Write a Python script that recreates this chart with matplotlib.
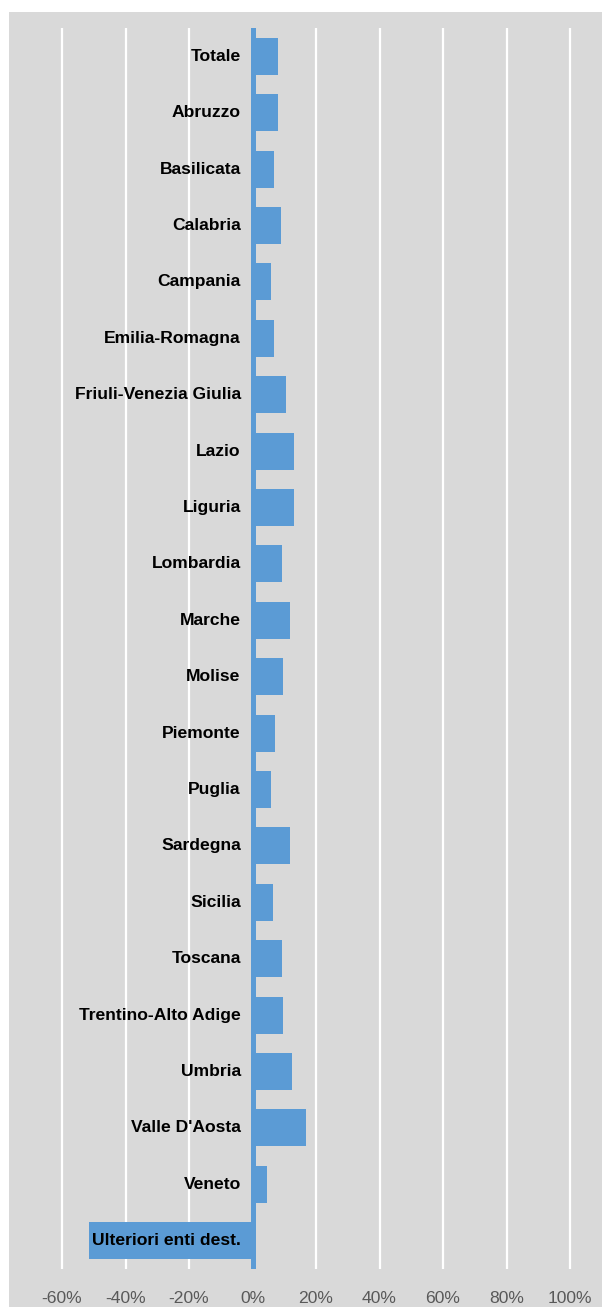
import matplotlib
matplotlib.use("Agg")
import matplotlib.pyplot as plt
from matplotlib import font_manager
from matplotlib.patches import Rectangle
from matplotlib.ticker import FuncFormatter

# Dati
regioni = ["Totale", "Abruzzo", "Basilicata", "Calabria", "Campania",
           "Emilia-Romagna", "Friuli-Venezia Giulia", "Lazio", "Liguria",
           "Lombardia", "Marche", "Molise", "Piemonte", "Puglia", "Sardegna",
           "Sicilia", "Toscana", "Trentino-Alto Adige", "Umbria",
           "Valle D'Aosta", "Veneto", "Ulteriori enti dest."]
variazione = [0.079, 0.079, 0.067, 0.089, 0.058, 0.067, 0.105, 0.130, 0.130,
              0.092, 0.117, 0.096, 0.071, 0.058, 0.117, 0.063, 0.092, 0.096,
              0.125, 0.169, 0.045, -0.514]
tick_valori = [-0.6, -0.4, -0.2, 0.0, 0.2, 0.4, 0.6, 0.8, 1.0]

# Font stretto se disponibile, altrimenti Liberation Sans più piccolo
try:
    font_manager.findfont("Liberation Sans Narrow", fallback_to_default=False)
    famiglia, fs_lab, fs_tick = "Liberation Sans Narrow", 14.5, 15
except Exception:
    famiglia, fs_lab, fs_tick = "Liberation Sans", 12.6, 12.6
plt.rcParams["font.family"] = [famiglia, "DejaVu Sans"]

BLU = "#5b9bd5"
GRIGIO = "#d9d9d9"

W, H = 602, 1307
fig = plt.figure(figsize=(W / 100, H / 100), dpi=100)
fig.patch.set_facecolor("white")
fig.add_artist(Rectangle((8.5 / W, 0), 1, 1 - 12 / H, transform=fig.transFigure,
                         facecolor=GRIGIO, edgecolor="none", zorder=0))

# area del grafico: -60% a x=62px, 100% a x=570px
ppu = (570 - 62) / 1.6
left_px, right_px = 50, 582
ax = fig.add_axes([left_px / W, 1 - 1269 / H, (right_px - left_px) / W, (1269 - 28) / H])
ax.set_facecolor("none")
ax.set_xlim(-0.6 - (62 - left_px) / ppu, 1.0 + (right_px - 570) / ppu)

n = len(regioni)
pos = list(range(n))
ax.set_ylim(n - 0.5, -0.5)

ax.barh(pos, variazione, height=0.656, color=BLU, zorder=3)
ax.axvline(0, color=BLU, linewidth=3.6, zorder=3)

for x in tick_valori:
    if x != 0:
        ax.axvline(x, color="white", linewidth=1.6, zorder=1)

for i, (nome, v) in enumerate(zip(regioni, variazione)):
    if v >= 0:
        ax.annotate(nome, xy=(0, i), xytext=(-8.5, 0), textcoords="offset points",
                    ha="right", va="center", fontsize=fs_lab, fontweight="bold",
                    color="black", zorder=4)
    else:
        ax.annotate(nome, xy=(v, i), xytext=(2.0, 0), textcoords="offset points",
                    ha="left", va="center", fontsize=fs_lab, fontweight="bold",
                    color="black", zorder=4)

ax.set_xticks(tick_valori)
ax.xaxis.set_major_formatter(FuncFormatter(lambda x, p: f"{x * 100:.0f}%"))
ax.tick_params(axis="x", length=0, pad=16, labelsize=fs_tick, labelcolor="#595959")
ax.set_yticks([])
for s in ax.spines.values():
    s.set_visible(False)

fig.savefig("out.png", dpi=100, facecolor=fig.get_facecolor())
